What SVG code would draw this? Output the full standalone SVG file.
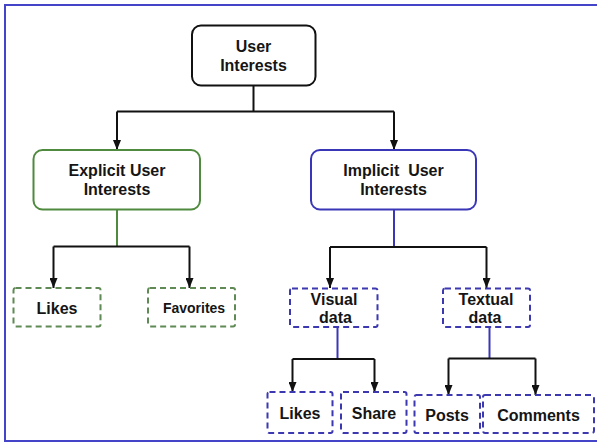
<svg xmlns="http://www.w3.org/2000/svg" width="597" height="443" viewBox="0 0 597 443">
<style>
text{font-family:"Liberation Sans",Arial,sans-serif;font-weight:bold;font-size:16px;fill:#151515;text-anchor:middle}
.solid{fill:#fff;stroke-width:2}
.dash{fill:#fff;stroke-width:2;stroke-dasharray:6 4}
.g{stroke:#4f8a3f}
.gd{stroke:#5f8a55}
.b{stroke:#3a36b8}
.bd{stroke:#3c38b0}
.k{stroke:#111}
.ln{fill:none;stroke-width:2}
</style>
<defs>
<marker id="ah" markerUnits="userSpaceOnUse" markerWidth="10" markerHeight="8" refX="10" refY="4" orient="auto">
<path d="M0,0 L10,4 L0,8 z" fill="#111"/>
</marker>
</defs>
<rect x="5" y="5" width="600" height="436" fill="#fff" stroke="#4444c8" stroke-width="2"/>
<g id="connectors">
<path class="ln k" d="M253.5,86 V111.5"/>
<path class="ln k" d="M117,111.5 H394"/>
<path class="ln k" d="M117,111.5 V150" marker-end="url(#ah)"/>
<path class="ln k" d="M394,111.5 V150" marker-end="url(#ah)"/>
<path class="ln g" d="M117,210 V246.5"/>
<path class="ln k" d="M53.5,246.5 H189.5"/>
<path class="ln k" d="M53.5,246.5 V288" marker-end="url(#ah)"/>
<path class="ln k" d="M189.5,246.5 V288" marker-end="url(#ah)"/>
<path class="ln b" d="M394,210 V247"/>
<path class="ln k" d="M330,247 H486.5"/>
<path class="ln k" d="M330,247 V288" marker-end="url(#ah)"/>
<path class="ln k" d="M486.5,247 V288" marker-end="url(#ah)"/>
<path class="ln b" d="M337.5,327 V359"/>
<path class="ln k" d="M292.5,359 H374.5"/>
<path class="ln k" d="M292.5,359 V392" marker-end="url(#ah)"/>
<path class="ln k" d="M374.5,359 V392" marker-end="url(#ah)"/>
<path class="ln b" d="M489.5,327 V358.5"/>
<path class="ln k" d="M448.5,358.5 H535.5"/>
<path class="ln k" d="M448.5,358.5 V395" marker-end="url(#ah)"/>
<path class="ln k" d="M535.5,358.5 V395" marker-end="url(#ah)"/>
</g>
<g id="user-interests">
<rect class="solid k" x="192" y="25.5" width="123.5" height="60" rx="9"/>
<text x="253.5" y="51.5">User</text>
<text x="253.5" y="70.5">Interests</text>
</g>
<g id="explicit">
<rect class="solid g" x="33.5" y="150" width="166.5" height="59.5" rx="9"/>
<text x="117" y="176">Explicit User</text>
<text x="117" y="195">Interests</text>
</g>
<g id="implicit">
<rect class="solid b" x="311" y="150" width="165" height="59.5" rx="9"/>
<text x="393.5" y="176" xml:space="preserve">Implicit  User</text>
<text x="393.5" y="195">Interests</text>
</g>
<g id="likes-explicit">
<rect class="dash gd" x="13.5" y="288" width="87" height="38.5" rx="2"/>
<text x="57" y="313.5">Likes</text>
</g>
<g id="favorites">
<rect class="dash gd" x="148" y="288" width="87" height="38.5" rx="2"/>
<text x="194" y="313" style="font-size:14px">Favorites</text>
</g>
<g id="visual-data">
<rect class="dash bd" x="290" y="288.5" width="87.5" height="38.5" rx="2"/>
<text x="334" y="304.5">Visual</text>
<text x="335.5" y="323">data</text>
</g>
<g id="textual-data">
<rect class="dash bd" x="443" y="288.5" width="87" height="38.5" rx="2"/>
<text x="486" y="304.5">Textual</text>
<text x="485" y="323">data</text>
</g>
<g id="likes-visual">
<rect class="dash bd" x="267.5" y="392" width="65" height="41" rx="2"/>
<text x="300" y="418.5">Likes</text>
</g>
<g id="share">
<rect class="dash bd" x="341" y="392" width="65.5" height="41" rx="2"/>
<text x="374" y="418.5">Share</text>
</g>
<g id="posts">
<rect class="dash bd" x="414.5" y="395" width="65.5" height="38" rx="2"/>
<text x="447" y="421">Posts</text>
</g>
<g id="comments">
<rect class="dash bd" x="483" y="395" width="111" height="38" rx="2"/>
<text x="538.5" y="421">Comments</text>
</g>
</svg>
